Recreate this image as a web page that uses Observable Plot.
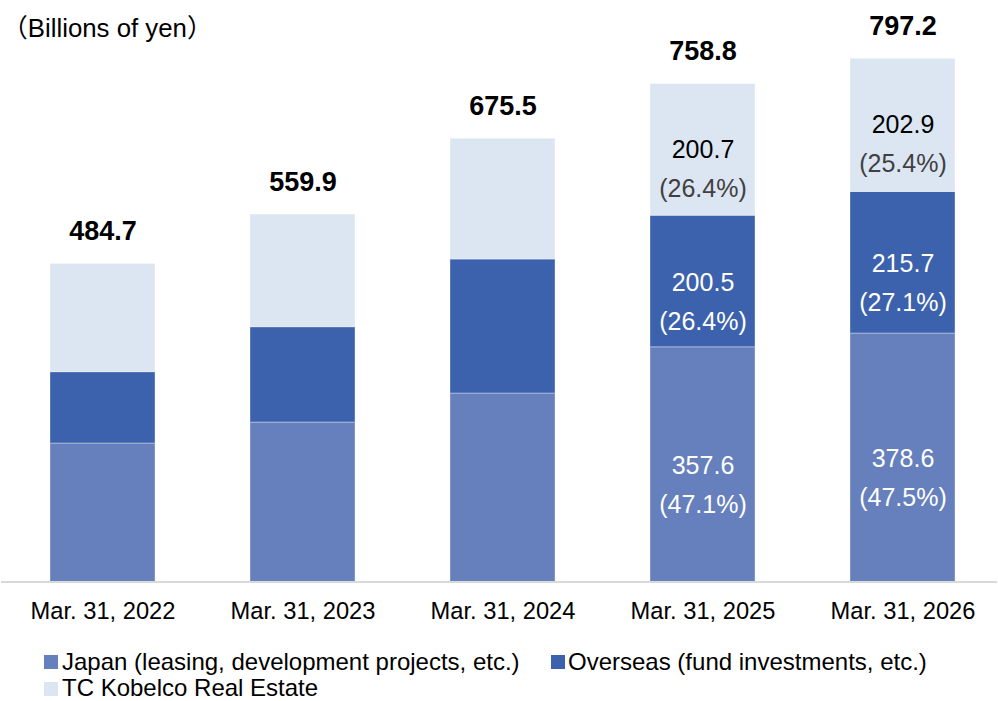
<!DOCTYPE html>
<html><head><meta charset="utf-8">
<script src="https://cdn.jsdelivr.net/npm/d3@7"></script>
<script src="https://cdn.jsdelivr.net/npm/@observablehq/plot@0.6"></script>
<style>
body{margin:0;background:#fff;}
#wrap{position:relative;width:998px;height:701px;overflow:hidden;font-family:"Liberation Sans",Arial,"Noto Sans CJK JP",sans-serif;}
#title{position:absolute;left:2px;top:16px;font-size:25.8px;line-height:1;color:#000;white-space:nowrap;}
.lg{position:absolute;font-size:24px;line-height:1;white-space:nowrap;color:#000;}
.sw{position:absolute;width:14px;height:14px;}
#chart{position:absolute;left:0;top:0;}
</style></head><body>
<div id="wrap"><div id="chart"></div><div id="title">（Billions of yen）</div></div>
<script>
const categories = ["Mar. 31, 2022","Mar. 31, 2023","Mar. 31, 2024","Mar. 31, 2025","Mar. 31, 2026"];
const seriesNames = ["Japan (leasing, development projects, etc.)","Overseas (fund investments, etc.)","TC Kobelco Real Estate"];
const seriesColors = ["#6680BE","#3C62AD","#DCE6F2"];
const japan = [211.0,243.0,287.2,357.6,378.6];
const overseas = [108.7,145.2,204.2,200.5,215.7];
const tcKobelco = [165.0,171.7,184.1,200.7,202.9];
const totals = [484.7,559.9,675.5,758.8,797.2];
const japanShare = [null,null,null,47.1,47.5];
const overseasShare = [null,null,null,26.4,27.1];
const tcShare = [null,null,null,26.4,25.4];

const seriesValues = [japan, overseas, tcKobelco];
const seriesShares = [japanShare, overseasShare, tcShare];
const rows = [];
categories.forEach((c,i)=>{
  let base = 0;
  seriesNames.forEach((s,k)=>{
    const v = seriesValues[k][i];
    rows.push({category:c, series:s, k, value:v, y1:base, y2:base+v, mid:base+v/2, share:seriesShares[k][i]});
    base += v;
  });
});
const labeledDark = rows.filter(d=>d.share!=null && d.k<2);
const labeledLight = rows.filter(d=>d.share!=null && d.k===2);
const totalRows = categories.map((c,i)=>({category:c, total:totals[i]}));

const H = 640, base0 = 581.5;
const chart = Plot.plot({
  width:998, height:H, marginLeft:1, marginRight:1, marginTop:56.5, marginBottom:H-base0,
  x:{type:"band", domain:categories, range:[48.5,956], paddingInner:0.474, paddingOuter:0, align:0.5, label:null},
  y:{domain:[0,800], range:[base0,56.5], axis:null},
  color:{domain:seriesNames, range:seriesColors},
  style:{fontFamily:'"Liberation Sans",Arial,sans-serif', background:"transparent", overflow:"visible", color:"#000"},
  marks:[
    Plot.barY(rows,{x:"category", y1:"y1", y2:"y2", fill:"series", stroke:"#ffffff", strokeOpacity:0.35, strokeWidth:1}),
    Plot.ruleY([0],{stroke:"#d9d9d9", strokeWidth:2}),
    Plot.axisX({tickSize:0, tickPadding:20, fontSize:23.7, fill:"#000", label:null}),
    Plot.text(labeledDark,{x:"category", y:"mid", text:d=>d.value.toFixed(1), fill:"#fff", fontSize:25, lineAnchor:"middle", dy:1}),
    Plot.text(labeledDark,{x:"category", y:"mid", text:d=>`(${d.share.toFixed(1)}%)`, fill:"#fff", fontSize:25, lineAnchor:"middle", dy:40}),
    Plot.text(labeledLight,{x:"category", y:"mid", text:d=>d.value.toFixed(1), fill:"#000", fontSize:25, lineAnchor:"middle", dy:0}),
    Plot.text(labeledLight,{x:"category", y:"mid", text:d=>`(${d.share.toFixed(1)}%)`, fill:"#404040", fontSize:25, lineAnchor:"middle", dy:39}),
    Plot.text(totalRows,{x:"category", y:"total", text:d=>d.total.toFixed(1), fontWeight:"bold", fontSize:27, lineAnchor:"bottom", dy:-24, fill:"#000"})
  ]
});
document.getElementById("chart").appendChild(chart);

// legend (HTML, under the plot area)
const wrap = document.getElementById("wrap");
const legendPos = [{sx:44, sy:655, tx:62, ty:649.5},{sx:551, sy:655, tx:568, ty:649.5},{sx:44, sy:682, tx:62, ty:675.5}];
seriesNames.forEach((name,k)=>{
  const p = legendPos[k];
  const sw = document.createElement("div");
  sw.className = "sw"; sw.style.left = p.sx+"px"; sw.style.top = p.sy+"px"; sw.style.background = seriesColors[k];
  const tx = document.createElement("div");
  tx.className = "lg"; tx.style.left = p.tx+"px"; tx.style.top = p.ty+"px"; tx.textContent = name;
  wrap.appendChild(sw); wrap.appendChild(tx);
});
</script>
</body></html>
